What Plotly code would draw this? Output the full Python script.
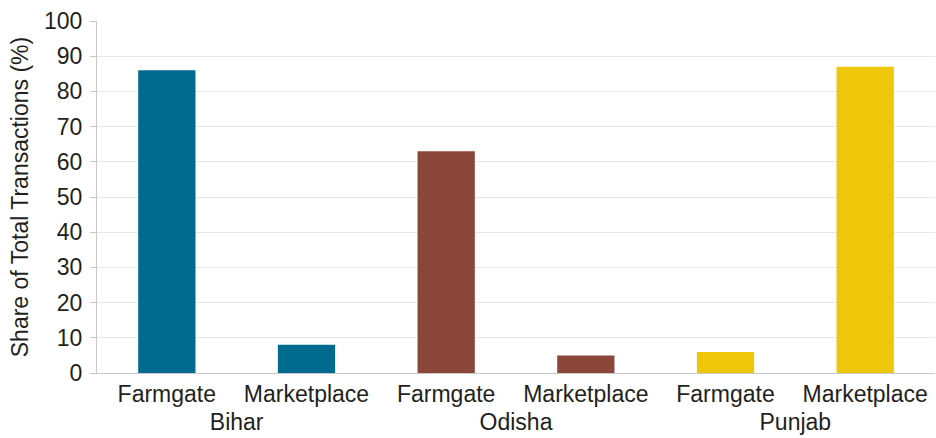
import plotly.graph_objects as go

states = ["Bihar", "Odisha", "Punjab"]
locations = ["Farmgate", "Marketplace"]
bihar = [86, 8]
odisha = [63, 5]
punjab = [6, 87]
colors = ["#006b8f", "#8b463a", "#eec60a"]
y_ticks = list(range(0, 101, 10))

fig = go.Figure()
for state, vals, col in zip(states, [bihar, odisha, punjab], colors):
    fig.add_trace(go.Bar(
        x=[[state] * len(locations), locations],
        y=vals,
        marker=dict(color=col, line=dict(width=0)),
        showlegend=False,
    ))

family = "Liberation Sans, Arial, sans-serif"
font = dict(family=family, size=23, color="#231f20")
fig.update_layout(
    width=936, height=438,
    margin=dict(l=97, r=1, t=21, b=65),
    paper_bgcolor="white", plot_bgcolor="white",
    barmode="overlay", bargap=0.59,
    font=font,
)
fig.update_xaxes(
    type="multicategory", automargin=False,
    showline=True, linecolor="#c8c8c8", linewidth=1,
    showdividers=False,
    ticks="", tickfont=font,
    showgrid=False,
)
fig.update_yaxes(
    range=[0, 100], tickvals=y_ticks, automargin=False,
    showline=True, linecolor="#c8c8c8", linewidth=1,
    ticks="outside", ticklen=6, tickcolor="#c8c8c8",
    ticklabelstandoff=3,
    gridcolor="#e6e6e6", gridwidth=1,
    zeroline=False,
    tickfont=font,
    title=dict(text="Share of Total Transactions (%)", font=dict(family=family, size=23, color="#231f20"), standoff=8),
)
fig.write_html(
    "out.html",
    config={"displayModeBar": False},
    post_script="document.body.style.margin='0';document.body.style.overflow='hidden';",
)
